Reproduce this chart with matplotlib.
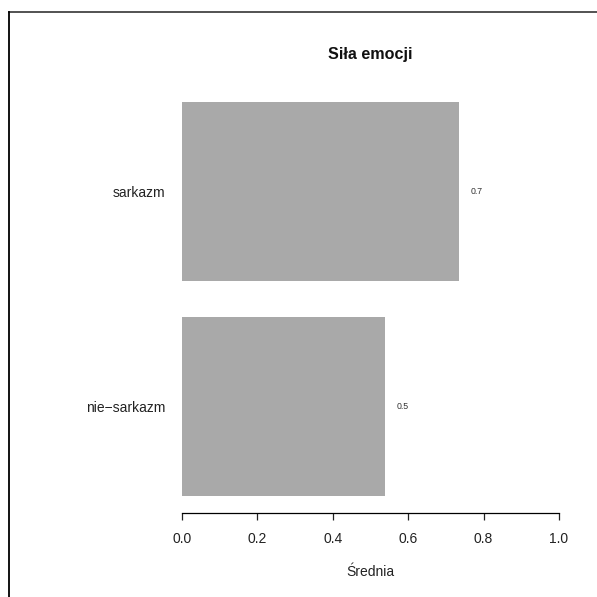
import matplotlib
matplotlib.use("Agg")
import matplotlib.pyplot as plt
from matplotlib.lines import Line2D

categories = ["nie\u2212sarkazm", "sarkazm"]
values = [0.538, 0.734]
xticks = [0.0, 0.2, 0.4, 0.6, 0.8, 1.0]
xtick_labels = ["0.0", "0.2", "0.4", "0.6", "0.8", "1.0"]
title = "Siła emocji"
xlabel = "Średnia"

plt.rcParams['font.family'] = ['Liberation Sans', 'DejaVu Sans']

W = H = 597
fig = plt.figure(figsize=(W / 100, H / 100), dpi=100)
fig.patch.set_facecolor('white')

def fx(px):
    return px / W

def fy(py):
    return 1 - py / H

left, right, top, bottom = 182, 559, 102, 496
ax = fig.add_axes([fx(left), fy(bottom), fx(right) - fx(left), fy(top) - fy(bottom)])

h = 1 / 1.2
pos = list(range(len(categories)))
ax.barh(pos, values, height=h, color='#A9A9A9', edgecolor='none')
ax.set_xlim(0, 1)
ax.set_ylim(-h / 2, len(categories) - 1 + h / 2)

for p, v in zip(pos, values):
    ax.text(v + 0.048, p, f"{v:.1f}", ha='center', va='center', fontsize=6.3, color='#333333')

for s in ['top', 'right', 'left']:
    ax.spines[s].set_visible(False)
ax.spines['bottom'].set_position(('outward', 12.2))
ax.spines['bottom'].set_bounds(0, 1)
ax.spines['bottom'].set_linewidth(0.9)

ax.set_xticks(xticks)
ax.set_xticklabels(xtick_labels, fontsize=10)
ax.tick_params(axis='x', length=5, width=0.9, pad=8.5, colors='#222222')
ax.set_yticks(pos)
ax.set_yticklabels(categories, fontsize=10, color='#222222')
ax.tick_params(axis='y', length=0, pad=12)

fig.text(fx(370), fy(54), title, ha='center', va='center', fontsize=11.6, fontweight='bold', color='#111111')
fig.text(fx(370), fy(572), xlabel, ha='center', va='center', fontsize=10, color='#222222')

# outer frame
fig.add_artist(Line2D([fx(9), 1.0], [fy(12), fy(12)], color='#444444', lw=1.3, transform=fig.transFigure))
fig.add_artist(Line2D([fx(9), fx(9)], [fy(12), 0.0], color='black', lw=1.3, transform=fig.transFigure))

fig.savefig("out.png", dpi=100)
